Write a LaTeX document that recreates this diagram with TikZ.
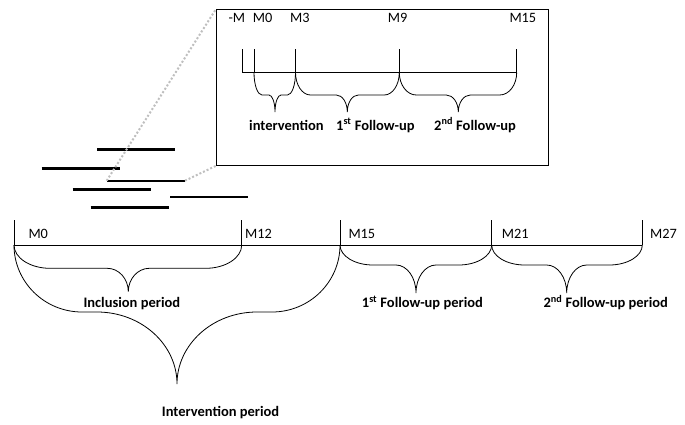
\documentclass[tikz,border=0pt]{standalone}
\usepackage{fontspec}
\setmainfont{Carlito}
% #1 left x, #2 right x, #3 tip x, #4 top y, #5 flat y, #6 tip y, #7 corner width, #8 tip width
\newcommand\drawbrace[8]{%
 \pgfmathsetmacro\bxa{#1+#7}\pgfmathsetmacro\bxb{#3-#8}%
 \pgfmathsetmacro\bxc{#3+#8}\pgfmathsetmacro\bxd{#2-#7}%
 \pgfmathsetmacro\cya{#4+0.552*(#5-#4)}\pgfmathsetmacro\cyb{#5+0.448*(#6-#5)}%
 \pgfmathsetmacro\cxa{#1+0.448*#7}\pgfmathsetmacro\cxb{#3-0.448*#8}%
 \pgfmathsetmacro\cxc{#3+0.448*#8}\pgfmathsetmacro\cxd{#2-0.448*#7}%
 \draw[thinline] (#1,#4) .. controls (#1,\cya) and (\cxa,#5) .. (\bxa,#5) -- (\bxb,#5)
   .. controls (\cxb,#5) and (#3,\cyb) .. (#3,#6)
   .. controls (#3,\cyb) and (\cxc,#5) .. (\bxc,#5)
   -- (\bxd,#5) .. controls (\cxd,#5) and (#2,\cya) .. (#2,#4);}
\begin{document}
\begin{tikzpicture}[x=1pt,y=-1pt,
  thinline/.style={line width=0.8pt,black},
  thickline/.style={line width=2.4pt,black},
  dotline/.style={line width=2pt,gray!50,dotted},
  mlab/.style={anchor=base west,inner sep=0pt,font=\fontsize{14.3}{16}\selectfont},
  blab/.style={anchor=base west,inner sep=0pt,font=\fontsize{14.5}{16}\selectfont\bfseries}]
\useasboundingbox (0,0) rectangle (685,424);
% left small lines
\draw[thickline] (97,149.3) -- (175,149.3);
\draw[thickline] (41.7,168.3) -- (120,168.3);
\coordinate (zl) at (106.7,180.7);
\coordinate (zr) at (185,180.7);
\draw[thickline] (zl) -- (zr);
\draw[thickline] (72.7,189.3) -- (151,189.3);
\draw[thickline] (170,196.7) -- (248.3,196.7);
\draw[thickline] (90.7,207.3) -- (169,207.3);
% inset box
\node[draw,line width=0.8pt,minimum width=332pt,minimum height=156pt,inner sep=0pt,anchor=north west] (box) at (216,9) {};
\draw[dotline] (zl) -- (box.north west);
\draw[dotline] (zr) -- (box.south west);
% inset timeline
\coordinate (im) at (242,72.5);
\coordinate (i0) at (254,72.5);
\coordinate (i3) at (295.5,72.5);
\coordinate (i9) at (399.3,72.5);
\coordinate (i15) at (516.7,72.5);
\draw[thinline] (im) -- (i15);
\foreach \p in {im,i0,i3,i9,i15} \draw[thinline] (\p) -- ++(0,-23.5);
\node[mlab] (lm) at (228.3,22.5) {-M};
\node[mlab] (l0) at (252.7,22.5) {M0};
\node[mlab] (l3) at (290,22.5) {M3};
\node[mlab] (l9) at (387.7,22.5) {M9};
\node[mlab] (l15) at (509.3,22.5) {M15};
\drawbrace{254}{295.5}{275}{72.5}{95}{112}{8}{6}
\drawbrace{295.5}{399.3}{347.3}{72.5}{95}{112}{15}{11}
\drawbrace{399.3}{516.7}{458.3}{72.5}{95}{112}{17}{12}
\node[blab] (tint) at (249,130) {intervention};
\node[blab] (tf1) at (336,130) {1\textsuperscript{st} Follow-up};
\node[blab] (tf2) at (434,130) {2\textsuperscript{nd} Follow-up};
% main timeline
\coordinate (m0) at (14,245);
\coordinate (m12) at (241.7,245);
\coordinate (m15) at (340,245);
\coordinate (m21) at (491.7,245);
\coordinate (m27) at (642.3,245);
\draw[thinline] (m0) -- (m27);
\foreach \p in {m0,m12,m15,m21,m27} \draw[thinline] (\p) -- ++(0,-25);
\node[mlab] (n0) at (28.3,238) {M0};
\node[mlab] (n12) at (245,238) {M12};
\node[mlab] (n15) at (348.3,238) {M15};
\node[mlab] (n21) at (501.7,238) {M21};
\node[mlab] (n27) at (650,238) {M27};
\drawbrace{14}{241.7}{128.3}{245}{268.3}{291.7}{36}{21}
\drawbrace{14}{340}{177}{245}{312}{384}{68}{80}
\drawbrace{340}{491.7}{416}{245}{265}{293}{33}{20}
\drawbrace{491.7}{642.3}{566.7}{245}{265}{293}{33}{20}
\node[blab] (tinc) at (83.3,307.7) {Inclusion period};
\node[blab] (tinv) at (161.7,416) {Intervention period};
\node[blab] (tfu1) at (361.7,307.7) {1\textsuperscript{st} Follow-up period};
\node[blab] (tfu2) at (543.3,307.7) {2\textsuperscript{nd} Follow-up period};
\end{tikzpicture}
\end{document}
